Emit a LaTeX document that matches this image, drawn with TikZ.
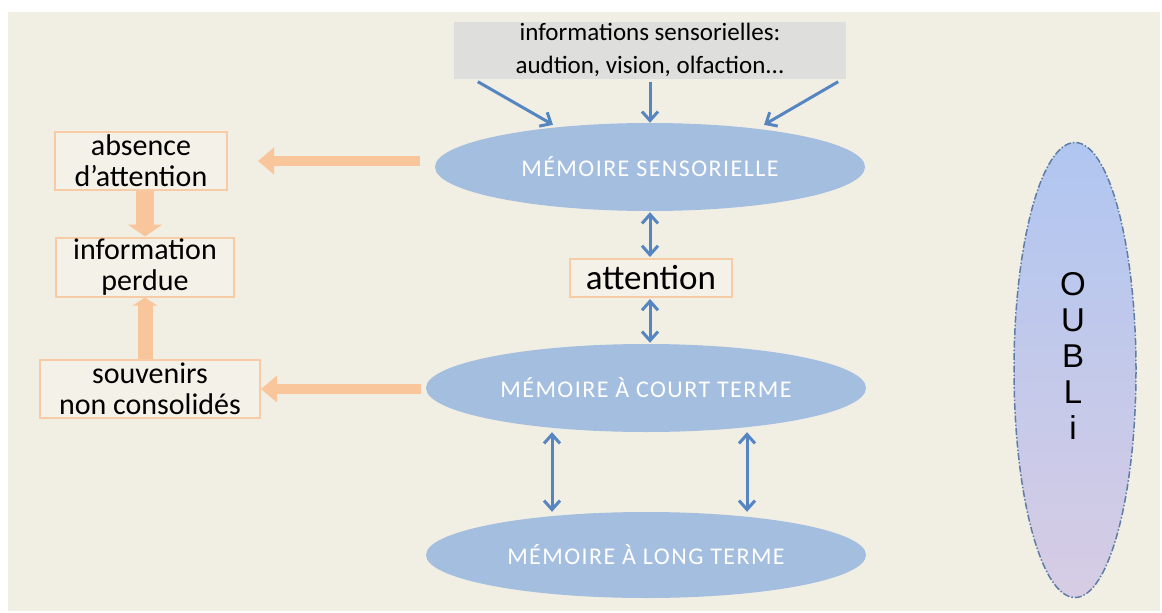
\documentclass[tikz,border=0pt]{standalone}
\usepackage{fontspec}
\setmainfont{Carlito}
\newfontfamily\capsfont[LetterSpace=6]{Carlito}
\newfontfamily\oublifont{Liberation Sans}
\usetikzlibrary{arrows.meta,shapes.geometric}
\definecolor{bgbeige}{RGB}{241,238,228}
\definecolor{boxgray}{RGB}{222,222,220}
\definecolor{memblue}{RGB}{164,190,223}
\definecolor{arrowblue}{RGB}{86,134,193}
\definecolor{lossorange}{RGB}{249,197,155}
\definecolor{boxline}{RGB}{247,203,166}
\definecolor{boxfill}{RGB}{244,241,233}
\definecolor{oublitop}{RGB}{176,198,241}
\definecolor{oublibot}{RGB}{215,204,228}
\definecolor{oubliline}{RGB}{95,125,165}
\begin{document}
\begin{tikzpicture}[
			x=1pt, y=-1pt,
			mem/.style = {
				ellipse,
				fill = memblue,
				text = white,
				minimum width = 440pt,
				minimum height = 88pt,
				font = \capsfont\fontsize{24}{28}\selectfont
			},
			lossbox/.style = {
				draw = boxline,
				line width = 2pt,
				fill = boxfill,
				align = center,
				inner sep = 0pt,
				font = \fontsize{30}{31}\selectfont
			},
			blink/.style = {
				draw = arrowblue,
				line width = 3pt,
				-{Straight Barb[length=9pt,width=16pt]}
			},
			blinks/.style = {
				blink,
				{Straight Barb[length=9pt,width=16pt]}-{Straight Barb[length=9pt,width=16pt]}
			},
			olink/.style = {
				draw = lossorange,
				line width = 10pt,
				-{Triangle[length=16pt,width=26pt]}
			}
		]
		\useasboundingbox (0,0) rectangle (1162,613);
		\fill[white] (0,0) rectangle (1162,613);
		\fill[bgbeige] (8,12) rectangle (1160,611);
		\node[fill=boxgray, minimum width=392pt, minimum height=57pt, align=center,
			inner sep=0pt, font=\fontsize{25}{33}\selectfont] (sens) at (650,50)
			{informations sensorielles:\\audtion, vision, olfaction...};
		\node[mem, minimum width=430pt] (ms)  at (650,167) {MÉMOIRE SENSORIELLE};
		\node[lossbox, minimum width=162pt, minimum height=38pt,
			font=\fontsize{35}{36}\selectfont] (att) at (651,278) {attention};
		\node[mem] (mct) at (646,388) {MÉMOIRE À COURT TERME};
		\node[mem, minimum height=86pt] (mlt) at (646,555) {MÉMOIRE À LONG TERME};
		\node[ellipse, minimum width=122pt, minimum height=455pt,
			top color=oublitop, bottom color=oublibot, draw=oubliline, line width=1.5pt,
			dash pattern=on 7pt off 2pt on 1.5pt off 2pt] (oubli) at (1075,370) {};
		\node[align=center, font=\oublifont\fontsize{33}{36}\selectfont] (oublitxt)
			at (1073,356) {O\\U\\B\\L\\i};
		\node[lossbox, minimum width=172pt, minimum height=58pt] (abs)  at (141,161)
			{absence\\d'attention};
		\node[lossbox, minimum width=178pt, minimum height=59pt] (perd) at (145,267)
			{information\\perdue};
		\node[lossbox, minimum width=220pt, minimum height=58pt] (souv) at (150,389)
			{souvenirs\\non consolidés};
		\draw[blink] ([xshift=24pt,yshift=-3pt]sens.south west) -- ([xshift=-97pt,yshift=-2pt]ms.north);
		\draw[blink] ([yshift=-3pt]sens.south) -- (ms.north);
		\draw[blink] ([xshift=-8pt,yshift=-3pt]sens.south east) -- ([xshift=114pt,yshift=-2pt]ms.north);
		\draw[blinks, shorten <=1pt, shorten >=1pt] (ms.south) -- (ms.south |- att.north);
		\draw[blinks, shorten <=1pt, shorten >=1pt] (ms.south |- att.south) -- (ms.south |- mct.north);
		\draw[blinks] ([xshift=-94pt]mct.south) -- ([xshift=-94pt]mlt.north);
		\draw[blinks] ([xshift=101pt]mct.south) -- ([xshift=101pt]mlt.north);
		\draw[olink, shorten <=15pt, shorten >=30pt] (ms.west |- abs.east) -- (abs.east);
		\draw[olink, shorten <=5pt] (mct.west |- souv.east) -- (souv.east);
		\draw[olink, line width=18pt, -{Triangle[length=12pt,width=34pt]}]
			(abs.south -| perd.north) -- (perd.north);
		\draw[olink, line width=15pt, -{Triangle[length=8pt,width=24pt]}]
			(perd.south |- souv.north) -- (perd.south);
	\end{tikzpicture}
\end{document}
